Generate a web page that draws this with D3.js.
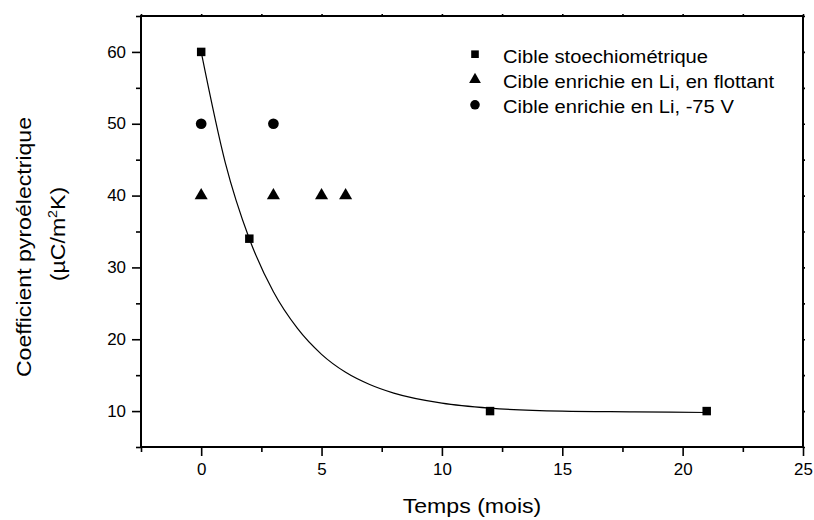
<!DOCTYPE html>
<html>
<head>
<meta charset="utf-8">
<script src="https://cdn.jsdelivr.net/npm/d3@7"></script>
<style>
  html, body { margin: 0; padding: 0; background: #fff; }
  text { font-family: "Liberation Sans", Arial, sans-serif; fill: #000; }
</style>
</head>
<body>
<svg id="chart" width="814" height="520"></svg>
<script>
// Measured pyroelectric coefficient vs. ageing time, three target types
const stoechMonths = [0, 2, 12, 21];
const stoechValues = [60, 34, 10, 10];

const flottantMonths = [0, 3, 5, 6];
const flottantValues = [40, 40, 40, 40];

const polarMonths = [0, 3];
const polarValues = [50, 50];

// Exponential decay fit through the stoichiometric series
const fitMonths = [0, 1, 2, 3, 4, 5, 6, 7, 8, 10, 12, 15, 18, 21];
const fitValues = [60, 44.6, 34.0, 26.6, 21.5, 17.9, 15.4, 13.7, 12.5, 11.1, 10.4, 10.0, 9.9, 9.8];

const xTicks = [0, 5, 10, 15, 20, 25];
const xMinor = [-2.5, 2.5, 7.5, 12.5, 17.5, 22.5];
const yTicks = [10, 20, 30, 40, 50, 60];
const yMinor = [5, 15, 25, 35, 45, 55, 65];

const legendLabels = [
  "Cible stoechiométrique",
  "Cible enrichie en Li, en flottant",
  "Cible enrichie en Li, -75 V"
];

const svg = d3.select("#chart");
const plotL = 141, plotR = 803, plotT = 16, plotB = 447;

const x = d3.scaleLinear().domain([-2.5, 25]).range([plotL, plotR]);
const y = d3.scaleLinear().domain([5, 65]).range([plotB, plotT]);

const stretch = 1.06;

// Frame
svg.append("rect")
  .attr("x", plotL).attr("y", plotT)
  .attr("width", plotR - plotL).attr("height", plotB - plotT)
  .attr("fill", "none").attr("stroke", "#000").attr("stroke-width", 2);

// Bottom axis: major + minor ticks
const gx = svg.append("g").attr("transform", `translate(0,${plotB})`);
gx.call(d3.axisBottom(x).tickValues(xTicks).tickSize(9).tickPadding(8).tickFormat(d3.format("d")));
gx.append("g").call(d3.axisBottom(x).tickValues(xMinor).tickSize(5).tickFormat(""));

// Left axis: major + minor ticks
const gy = svg.append("g").attr("transform", `translate(${plotL},0)`);
gy.call(d3.axisLeft(y).tickValues(yTicks).tickSize(9).tickPadding(6).tickFormat(d3.format("d")));
gy.append("g").call(d3.axisLeft(y).tickValues(yMinor).tickSize(5).tickFormat(""));

// Small outer ticks on the top and right edges
const gt = svg.append("g").attr("transform", `translate(0,${plotT})`);
gt.call(d3.axisTop(x).tickValues(xTicks.concat(xMinor)).tickSize(2).tickFormat(""));
const gr = svg.append("g").attr("transform", `translate(${plotR},0)`);
gr.call(d3.axisRight(y).tickValues(yTicks.concat(yMinor)).tickSize(2).tickFormat(""));

svg.selectAll(".domain").remove();
svg.selectAll(".tick line").attr("stroke", "#000").attr("stroke-width", 1.6);

gx.selectAll(".tick text")
  .attr("font-size", 16).attr("font-family", "Liberation Sans, Arial, sans-serif")
  .attr("transform", `scale(${stretch},1)`);
gy.selectAll(".tick text")
  .attr("font-size", 16).attr("font-family", "Liberation Sans, Arial, sans-serif")
  .attr("x", -15 / stretch)
  .attr("transform", `scale(${stretch},1)`);

// Fit curve
const line = d3.line()
  .x((d, i) => x(fitMonths[i]))
  .y(d => y(d))
  .curve(d3.curveMonotoneX);
svg.append("path")
  .attr("d", line(fitValues))
  .attr("fill", "none").attr("stroke", "#000").attr("stroke-width", 1.2);

// Markers
const sq = d3.symbol().type(d3.symbolSquare).size(72);
const tri = d3.symbol().type(d3.symbolTriangle).size(74);
const circ = d3.symbol().type(d3.symbolCircle).size(90);

function drawSeries(months, values, sym) {
  svg.append("g").selectAll("path")
    .data(values)
    .join("path")
    .attr("d", sym)
    .attr("transform", (d, i) => `translate(${x(months[i])},${y(d)})`)
    .attr("fill", "#000");
}
drawSeries(flottantMonths, flottantValues, tri);
drawSeries(polarMonths, polarValues, circ);
drawSeries(stoechMonths, stoechValues, sq);

// Legend
const legSyms = [
  d3.symbol().type(d3.symbolSquare).size(58),
  d3.symbol().type(d3.symbolTriangle).size(60),
  d3.symbol().type(d3.symbolCircle).size(72)
];
const leg = svg.append("g");
legendLabels.forEach((label, i) => {
  const by = 62.7 + i * 25.3;
  leg.append("path")
    .attr("d", legSyms[i]())
    .attr("transform", `translate(475,${by - 8.5})`)
    .attr("fill", "#000");
  leg.append("text")
    .attr("transform", `translate(503,${by}) scale(1.09,1)`)
    .attr("font-size", 18.5)
    .text(label);
});

// Axis titles
svg.append("text")
  .attr("transform", `translate(472,513) scale(1.1,1)`)
  .attr("text-anchor", "middle")
  .attr("font-size", 21)
  .text("Temps (mois)");

svg.append("text")
  .attr("transform", `translate(31,247) rotate(-90) scale(1.1,1)`)
  .attr("text-anchor", "middle")
  .attr("font-size", 21)
  .text("Coefficient pyroélectrique");

const unit = svg.append("text")
  .attr("transform", `translate(65,234) rotate(-90) scale(1.1,1)`)
  .attr("text-anchor", "middle")
  .attr("font-size", 21);
unit.append("tspan").text("(µC/m");
unit.append("tspan").attr("font-size", 13).attr("dy", -8).text("2");
unit.append("tspan").attr("dy", 8).text("K)");
</script>
</body>
</html>
